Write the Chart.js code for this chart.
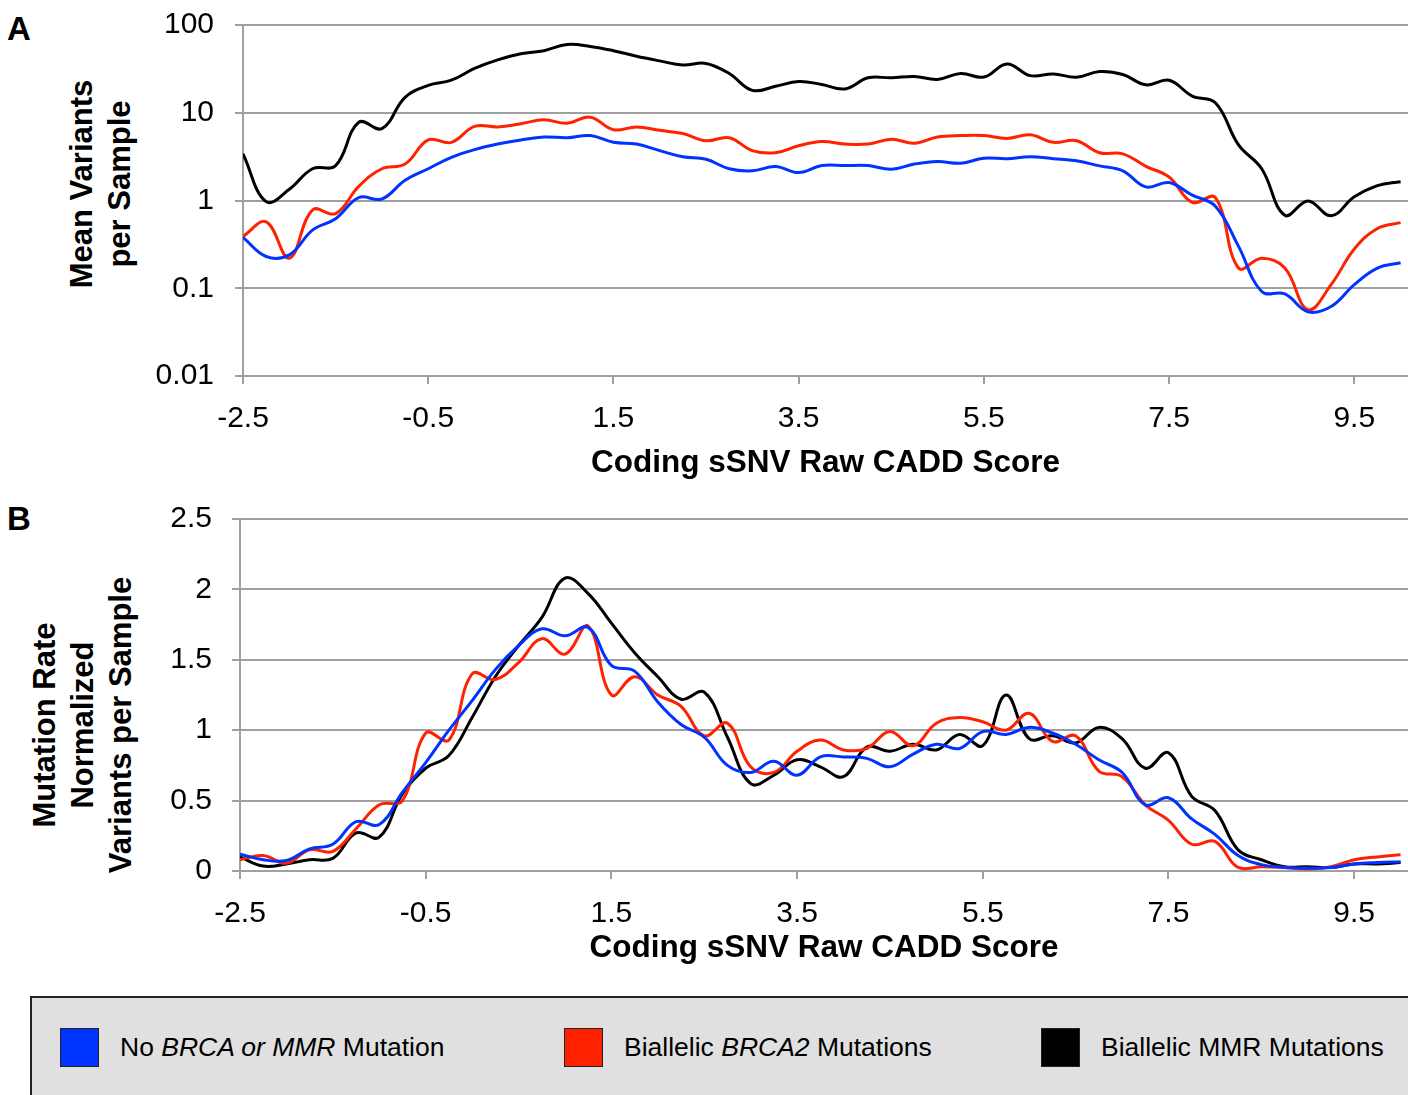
<!DOCTYPE html>
<html lang="en">
<head>
<meta charset="UTF-8">
<title>Coding sSNV Raw CADD Score</title>
<script src="https://cdn.jsdelivr.net/npm/chart.js"></script>
<style>
  body { margin: 0; width: 1408px; height: 1095px; overflow: hidden; background: #fff; position: relative;
         font-family: "Liberation Sans", Arial, sans-serif; color: #000; }
  .panel { position: absolute; left: 0; width: 1408px; height: 490px; }
  .letter { position: absolute; left: 7px; font-weight: bold; font-size: 33px; line-height: 33px; }
  .ytitle { position: absolute; font-weight: bold; font-size: 31px; line-height: 38px; text-align: center;
            white-space: nowrap; transform: translate(-50%, -50%) rotate(-90deg); }
  .legend { position: absolute; left: 30px; top: 996px; width: 1400px; height: 130px; background: #e0e0e0;
            border: 2px solid #222; box-sizing: border-box; }
  .item { position: absolute; top: 1028px; height: 39px; display: flex; align-items: center; font-size: 26.5px; white-space: nowrap; }
  .swatch { width: 39px; height: 39px; border: 1.5px solid #222; box-sizing: border-box; margin-right: 21px; }
</style>
</head>
<body>
  <div class="letter" style="top:12px">A</div>
  <div class="letter" style="top:502px">B</div>

  <div class="ytitle" style="left:101px; top:184px">Mean Variants<br>per Sample</div>
  <div class="ytitle" style="left:83px; top:725px">Mutation Rate<br>Normalized<br>Variants per Sample</div>

  <div class="panel" style="top:0"><canvas id="meanChart"></canvas></div>
  <div class="panel" style="top:490px"><canvas id="rateChart"></canvas></div>

  <div class="legend"></div>
  <div class="item" style="left:60px"><div class="swatch" style="background:#0033ff"></div>No&nbsp;<i>BRCA or MMR</i>&nbsp;Mutation</div>
  <div class="item" style="left:564px"><div class="swatch" style="background:#ff2200"></div>Biallelic&nbsp;<i>BRCA2</i>&nbsp;Mutations</div>
  <div class="item" style="left:1041px"><div class="swatch" style="background:#000"></div>Biallelic MMR Mutations</div>

<script>
// CADD score bins (0.25 wide)
const cadd = [-2.5, -2.25, -2, -1.75, -1.5, -1.25, -1, -0.75, -0.5, -0.25,
  0, 0.25, 0.5, 0.75, 1, 1.25, 1.5, 1.75, 2, 2.25,
  2.5, 2.75, 3, 3.25, 3.5, 3.75, 4, 4.25, 4.5, 4.75,
  5, 5.25, 5.5, 5.75, 6, 6.25, 6.5, 6.75, 7, 7.25,
  7.5, 7.75, 8, 8.25, 8.5, 8.75, 9, 9.25, 9.5, 9.75, 10];

const xTicks = [-2.5, -0.5, 1.5, 3.5, 5.5, 7.5, 9.5];
const meanTicks = [0.01, 0.1, 1, 10, 100];
const rateTicks = [0, 0.5, 1, 1.5, 2, 2.5];

// panel A: mean variants per sample (log scale)
const meanNone = [0.38, 0.23, 0.24, 0.46, 0.62, 1.08, 1.04, 1.7, 2.3, 3.1,
  3.8, 4.4, 4.9, 5.3, 5.2, 5.5, 4.6, 4.4, 3.7, 3.15,
  2.95, 2.3, 2.18, 2.44, 2.08, 2.5, 2.5, 2.5, 2.27, 2.6,
  2.78, 2.66, 3.03, 3.0, 3.15, 3.0, 2.83, 2.48, 2.18, 1.43,
  1.6, 1.15, 0.86, 0.30, 0.092, 0.086, 0.054, 0.062, 0.11, 0.17, 0.195];
const meanBrca2 = [0.39, 0.57, 0.22, 0.78, 0.71, 1.45, 2.3, 2.6, 4.9, 4.6,
  7.0, 6.9, 7.5, 8.3, 7.6, 8.9, 6.4, 6.9, 6.3, 5.8,
  4.8, 5.2, 3.7, 3.5, 4.2, 4.7, 4.4, 4.4, 5.0, 4.5,
  5.3, 5.5, 5.5, 5.1, 5.6, 4.6, 4.8, 3.5, 3.4, 2.45,
  1.85, 0.95, 1.08, 0.17, 0.22, 0.17, 0.057, 0.11, 0.28, 0.48, 0.56];
const meanMmr = [3.4, 0.97, 1.34, 2.3, 2.5, 7.8, 6.6, 15, 20.5, 23.5,
  32, 40, 47, 51, 60, 57, 51, 44, 39, 35,
  36.5, 28, 18, 20, 22.7, 21, 18.7, 25, 25, 25.9,
  24, 28, 25.5, 36, 26.5, 27.7, 25.4, 29.5, 27.3, 20.8,
  23.5, 15.5, 13, 4.3, 2.3, 0.68, 0.99, 0.67, 1.1, 1.48, 1.64];

// panel B: mutation rate normalized variants per sample
const rateNone = [0.12, 0.08, 0.075, 0.157, 0.19, 0.35, 0.33, 0.56, 0.77, 1.0,
  1.21, 1.43, 1.6, 1.72, 1.67, 1.73, 1.46, 1.42, 1.2, 1.04,
  0.95, 0.75, 0.70, 0.78, 0.68, 0.81, 0.81, 0.80, 0.74, 0.83,
  0.90, 0.87, 0.99, 0.97, 1.02, 0.98, 0.9, 0.79, 0.70, 0.47,
  0.52, 0.37, 0.26, 0.11, 0.045, 0.025, 0.02, 0.025, 0.05, 0.06, 0.066];
const rateBrca2 = [0.08, 0.11, 0.055, 0.15, 0.14, 0.30, 0.47, 0.50, 0.98, 0.93,
  1.40, 1.36, 1.48, 1.65, 1.54, 1.74, 1.25, 1.38, 1.25, 1.17,
  0.96, 1.05, 0.74, 0.70, 0.85, 0.93, 0.86, 0.87, 0.99, 0.89,
  1.05, 1.09, 1.06, 1.0, 1.12, 0.92, 0.96, 0.71, 0.67, 0.47,
  0.36, 0.19, 0.21, 0.025, 0.03, 0.025, 0.015, 0.03, 0.08, 0.1, 0.115];
const rateMmr = [0.10, 0.035, 0.05, 0.08, 0.09, 0.27, 0.24, 0.55, 0.73, 0.82,
  1.09, 1.38, 1.6, 1.8, 2.08, 1.97, 1.76, 1.55, 1.38, 1.22,
  1.27, 0.95, 0.62, 0.68, 0.79, 0.74, 0.67, 0.88, 0.85, 0.9,
  0.86, 0.97, 0.89, 1.25, 0.94, 0.96, 0.91, 1.02, 0.94, 0.73,
  0.84, 0.53, 0.43, 0.15, 0.08, 0.03, 0.03, 0.025, 0.05, 0.05, 0.06];

const seriesNames = ['No BRCA or MMR Mutation', 'Biallelic BRCA2 Mutations', 'Biallelic MMR Mutations'];
const seriesColors = ['#0033ff', '#ff2200', '#000000'];

const gridGray = '#a0a0a0';
const tickFont = { family: '"Liberation Sans", Arial, sans-serif', size: 30 };
// small lineHeight keeps the y labels from pushing the plot area down
const yTickFont = { family: '"Liberation Sans", Arial, sans-serif', size: 30, lineHeight: 0.2 };
const titleFont = { family: '"Liberation Sans", Arial, sans-serif', size: 31.5, weight: 'bold' };

function makeDatasets(lists) {
  return lists.map((vals, i) => ({
    label: seriesNames[i],
    data: cadd.map((x, j) => ({ x: x, y: vals[j] })),
    borderColor: seriesColors[i],
    borderWidth: 3,
    pointRadius: 0,
    tension: 0.4,
    fill: false
  }));
}

function makeChart(id, lists, yOpts, yWidth, xHeight, padTop, titlePad) {
  return new Chart(document.getElementById(id), {
    type: 'line',
    data: { datasets: makeDatasets(lists) },
    options: {
      responsive: true,
      maintainAspectRatio: false,
      animation: false,
      layout: { padding: { top: padTop, left: 0, right: 0, bottom: 0 } },
      plugins: { legend: { display: false }, tooltip: { enabled: false } },
      scales: {
        x: {
          type: 'linear',
          min: -2.5,
          max: 10.08,
          afterBuildTicks: s => { s.ticks = xTicks.map(v => ({ value: v })); },
          afterFit: s => { s.height = xHeight; },
          ticks: { font: tickFont, color: '#000', padding: 17, maxRotation: 0, callback: v => String(v) },
          grid: { drawOnChartArea: false, drawTicks: true, tickLength: 8, color: gridGray, lineWidth: 2 },
          border: { display: true, color: gridGray, width: 2 },
          title: { display: true, text: 'Coding sSNV Raw CADD Score', font: titleFont, color: '#000',
                   padding: { top: 0, bottom: titlePad } }
        },
        y: Object.assign({
          afterFit: s => { s.width = yWidth; },
          grid: { color: gridGray, lineWidth: 2, tickLength: 8 },
          border: { display: true, color: gridGray, width: 2 }
        }, yOpts)
      }
    }
  });
}

makeChart('meanChart', [meanNone, meanBrca2, meanMmr], {
  type: 'logarithmic',
  min: 0.01,
  max: 100,
  afterBuildTicks: s => { s.ticks = meanTicks.map(v => ({ value: v })); },
  ticks: { font: yTickFont, color: '#000', padding: 21, callback: v => String(v) }
}, 243, 114, 25, 8);

makeChart('rateChart', [rateNone, rateBrca2, rateMmr], {
  type: 'linear',
  min: 0,
  max: 2.5,
  afterBuildTicks: s => { s.ticks = rateTicks.map(v => ({ value: v })); },
  ticks: { font: yTickFont, color: '#000', padding: 20, callback: v => String(v) }
}, 240, 109, 29, 13);
</script>
</body>
</html>
